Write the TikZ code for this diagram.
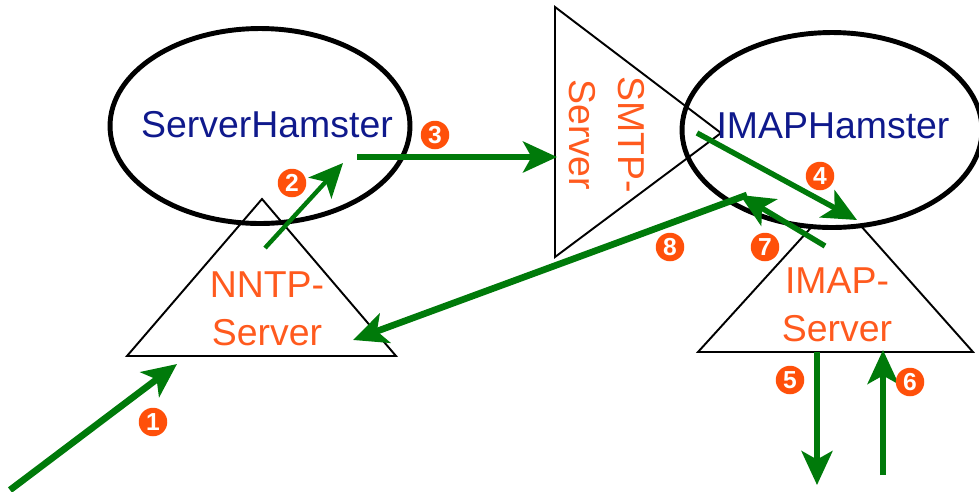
\documentclass[tikz,border=0pt]{standalone}
\usepackage{fontspec}
\setmainfont{Liberation Sans}
\usetikzlibrary{shapes.geometric,arrows.meta}

\definecolor{flowgreen}{RGB}{0,122,10}
\definecolor{srvorange}{RGB}{255,90,30}
\definecolor{hamblue}{RGB}{15,25,140}
\definecolor{badgered}{RGB}{255,80,10}

\tikzset{
  hamster/.style={ellipse, draw=black, line width=2.8pt,
    minimum width=6cm, minimum height=3.9cm},
  hamtext/.style={text=hamblue, font=\fontsize{21.3}{27}\selectfont},
  server/.style={draw=black, line width=1.1pt, line join=miter},
  srvtext/.style={text=srvorange, align=center,
    font=\fontsize{21.3}{27.5}\selectfont},
  flow/.style={flowgreen, line width=3.1pt,
    -{Stealth[length=6.8mm,width=6.2mm,inset=1.7mm]}},
  badge/.style={circle, fill=badgered, text=white, inner sep=0pt,
    minimum size=5.7mm, font=\bfseries\fontsize{14}{14}\selectfont},
}

\begin{document}
\begin{tikzpicture}[x=0.02cm, y=-0.02cm]
  \useasboundingbox (0,0) rectangle (979,491);

  % servers (triangles)
  \coordinate (nntp-top) at (262,199);
  \coordinate (nntp-l) at (127,356);
  \coordinate (nntp-r) at (396,356);
  \coordinate (imap-top) at (837,199);
  \coordinate (imap-l) at (698,352);
  \coordinate (imap-r) at (973,352);
  \coordinate (smtp-t) at (555,7);
  \coordinate (smtp-b) at (555,257);
  \coordinate (smtp-tip) at (721,133);

  \draw[server] (nntp-top) -- (nntp-l) -- (nntp-r) -- cycle;
  \draw[server] (imap-top) -- (imap-l) -- (imap-r) -- cycle;

  % hamsters
  \node[hamster] (server-hamster) at (260,126) {};
  \node[hamster, fill=white] (imap-hamster) at (832,130) {};
  \draw[server] (smtp-t) -- (smtp-b) -- (smtp-tip) -- cycle;

  \node[hamtext] (sh-label) at (267,125) {ServerHamster};
  \node[hamtext] (ih-label) at (833,126) {IMAPHamster};

  \node[srvtext] (nntp) at (267,309) {NNTP-\\Server};
  \node[srvtext] (imap) at (837,305) {IMAP-\\Server};
  \node[srvtext, rotate=-90] (smtp) at (607,135) {SMTP-\\Server};

  % connector ends
  \coordinate (outside-in) at (10,490);
  \coordinate (nntp-in) at (177,364);
  \coordinate (nntp-up) at (265,248);
  \coordinate (sh-in) at (343,163);
  \coordinate (sh-out) at (357,157);
  \coordinate (smtp-in) at (557,157);
  \coordinate (ih-out) at (697,133);
  \coordinate (imap-in) at (857,220);
  \coordinate (imap-up) at (825,246);
  \coordinate (ih-in) at (740,195);
  \coordinate (ih-back) at (747,195);
  \coordinate (nntp-back) at (353,340);
  \coordinate (imap-down) at (817,352);
  \coordinate (client-in) at (817,485);
  \coordinate (client-out) at (883,475);
  \coordinate (imap-bottom) at (883,350);

  % message flow
  \draw[flow, line width=3.8pt] (outside-in) -- (nntp-in);
  \draw[flow, line width=2.5pt] (nntp-up) -- (sh-in);
  \draw[flow] (sh-out) -- (smtp-in);
  \draw[flow] (ih-out) -- (imap-in);
  \draw[flow] (imap-up) -- (ih-in);
  \draw[flow, line width=3.8pt] (ih-back) -- (nntp-back);
  \draw[flow] (imap-down) -- (client-in);
  \draw[flow] (client-out) -- (imap-bottom);

  % step numbers
  \node[badge] (n1) at (153,422) {1};
  \node[badge] (n2) at (292,183) {2};
  \node[badge] (n3) at (435,135) {3};
  \node[badge] (n4) at (820,176) {4};
  \node[badge] (n5) at (790,380) {5};
  \node[badge] (n6) at (910,382) {6};
  \node[badge] (n7) at (765,247) {7};
  \node[badge] (n8) at (670,247) {8};
\end{tikzpicture}
\end{document}
